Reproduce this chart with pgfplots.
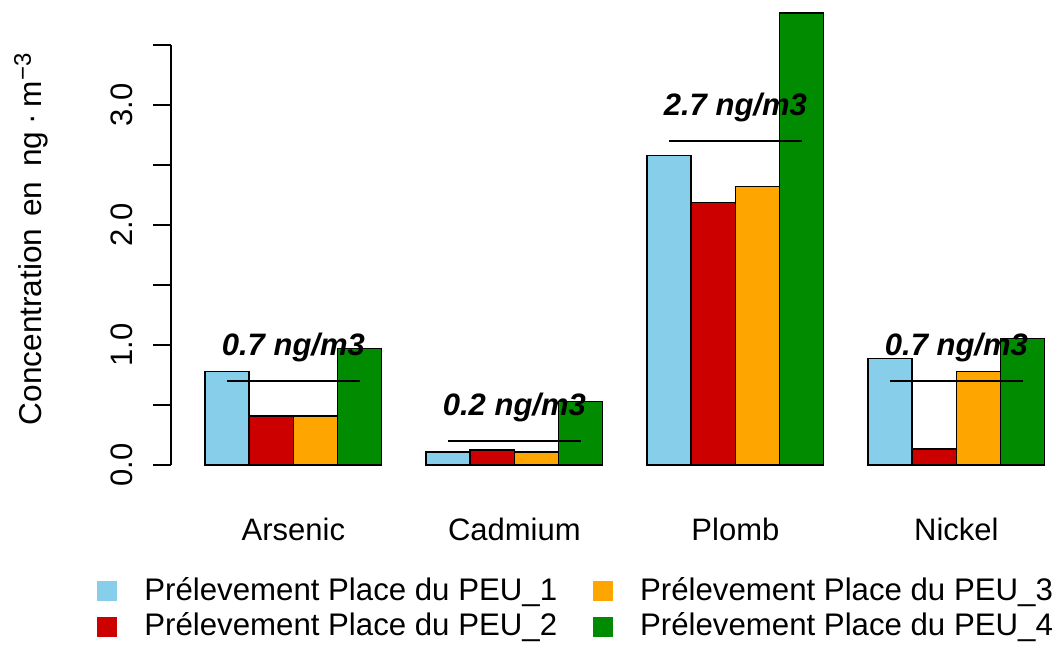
\documentclass[border=0pt]{standalone}
\usepackage{pgfplots}
\pgfplotsset{compat=1.18}
\usepackage{fontspec}
\setmainfont{Liberation Sans}
\definecolor{cskyblue}{RGB}{135,206,235}
\definecolor{cred}{RGB}{205,0,0}
\definecolor{corange}{RGB}{255,165,0}
\definecolor{cgreen}{RGB}{0,139,0}
\begin{document}
\fontsize{15.5pt}{18pt}\selectfont
\begin{tikzpicture}
\begin{axis}[
  x=22.1pt, y=60pt,
  xmin=0.24, xmax=20.76, ymin=-0.15, ymax=3.92,
  clip=false,
  axis line style={draw=none},
  tick align=outside,
  major tick length=9pt,
  ytick={0,0.5,1,1.5,2,2.5,3,3.5},
  yticklabels={0.0,,1.0,,2.0,,3.0,},
  ytick style={black, line width=0.9pt},
  yticklabel style={rotate=90, anchor=south, inner sep=0pt, font=\fontsize{15.5pt}{18pt}\selectfont},
  yticklabel shift=10pt,
  xtick={3,8,13,18},
  xticklabels={Arsenic,Cadmium,Plomb,Nickel},
  xtick style={draw=none},
  xticklabel style={anchor=base, inner sep=0pt, yshift=-19.5pt, font=\fontsize{15.5pt}{18pt}\selectfont},
  ylabel={Concentration\hspace{1.5pt} en\hspace{3pt} ng\hspace{3.5pt}·\hspace{3.5pt}m\textsuperscript{\fontsize{12pt}{12pt}\selectfont −3}},
  ylabel style={at={(axis description cs:-0.1356,0.5)}, rotate=0, anchor=south, inner sep=0pt, font=\fontsize{15.8pt}{18pt}\selectfont},
  legend columns=2,
  transpose legend,
  legend image code/.code={\fill[#1, draw=none] (0pt,-5pt) rectangle (10pt,5pt);},
  legend style={at={(axis description cs:-0.082,-0.184)}, anchor=north west, draw=none, fill=none, inner sep=0pt,
    font=\fontsize{15.6pt}{18pt}\selectfont, row sep=0pt,
    /tikz/every odd column/.append style={column sep=11.5pt},
    /tikz/every even column/.append style={column sep=16pt}},
]
\addplot[ybar, bar width=1, bar shift=0pt, fill=cskyblue, draw=black, line width=0.7pt]
  coordinates {(1.5,0.78) (6.5,0.11) (11.5,2.58) (16.5,0.89)};
\addlegendentry{Prélevement Place du PEU\_1}
\addplot[ybar, bar width=1, bar shift=0pt, fill=cred, draw=black, line width=0.7pt]
  coordinates {(2.5,0.41) (7.5,0.125) (12.5,2.19) (17.5,0.135)};
\addlegendentry{Prélevement Place du PEU\_2}
\addplot[ybar, bar width=1, bar shift=0pt, fill=corange, draw=black, line width=0.7pt]
  coordinates {(3.5,0.41) (8.5,0.11) (13.5,2.32) (18.5,0.78)};
\addlegendentry{Prélevement Place du PEU\_3}
\addplot[ybar, bar width=1, bar shift=0pt, fill=cgreen, draw=black, line width=0.7pt]
  coordinates {(4.5,0.97) (9.5,0.53) (14.5,3.765) (19.5,1.056)};
\addlegendentry{Prélevement Place du PEU\_4}
\addplot[black, line width=1.2pt, forget plot] coordinates {(1.5,0.7) (4.5,0.7)};
\addplot[black, line width=1.2pt, forget plot] coordinates {(6.5,0.2) (9.5,0.2)};
\addplot[black, line width=1.2pt, forget plot] coordinates {(11.5,2.7) (14.5,2.7)};
\addplot[black, line width=1.2pt, forget plot] coordinates {(16.5,0.7) (19.5,0.7)};
\draw[black, line width=0.9pt] (axis cs:0.24,0) -- (axis cs:0.24,3.5);
\node[font=\fontsize{15.5pt}{18pt}\selectfont\bfseries\itshape, anchor=base, inner sep=0pt] at (axis cs:3,0.91) {0.7 ng/m3};
\node[font=\fontsize{15.5pt}{18pt}\selectfont\bfseries\itshape, anchor=base, inner sep=0pt] at (axis cs:8,0.41) {0.2 ng/m3};
\node[font=\fontsize{15.5pt}{18pt}\selectfont\bfseries\itshape, anchor=base, inner sep=0pt] at (axis cs:13,2.91) {2.7 ng/m3};
\node[font=\fontsize{15.5pt}{18pt}\selectfont\bfseries\itshape, anchor=base, inner sep=0pt] at (axis cs:18,0.91) {0.7 ng/m3};
\end{axis}
\pgfresetboundingbox
\path ([shift={(-85.7pt,-80.5pt)}]current axis.south west) rectangle ([shift={(444.8pt,241.5pt)}]current axis.south west);
\end{tikzpicture}
\end{document}
